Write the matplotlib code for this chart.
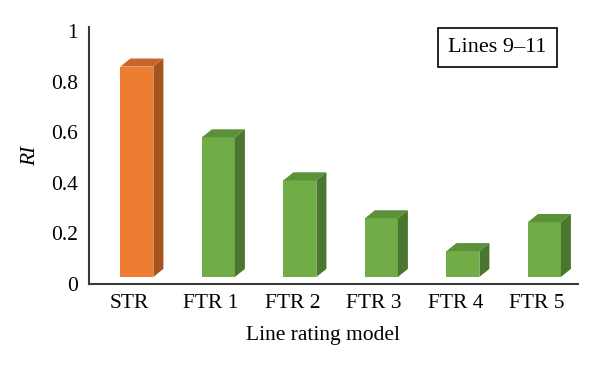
import numpy as np
import matplotlib.pyplot as plt
from matplotlib.patches import Polygon

# values
models = ["STR", "FTR 1", "FTR 2", "FTR 3", "FTR 4", "FTR 5"]
ri = [0.86, 0.58, 0.41, 0.26, 0.13, 0.245]
front_colors = ["#ED7D31", "#70AD47", "#70AD47", "#70AD47", "#70AD47", "#70AD47"]
top_colors = ["#C9652B", "#5B9139", "#5B9139", "#5B9139", "#5B9139", "#5B9139"]
side_colors = ["#A4541F", "#4A762F", "#4A762F", "#4A762F", "#4A762F", "#4A762F"]

plt.rcParams['font.family'] = ['Liberation Serif', 'DejaVu Serif']

fig = plt.figure(figsize=(6, 3.67), dpi=100)
ax = fig.add_axes([0.148, 0.226, 0.815, 0.7])

# fake 3d columns: front face + top + side
x = np.arange(len(models))
width = 0.405
shift = 0.09      # bars sit a bit right of the label
dx, dy = 0.123, 0.032
floor = 0.028
for i in range(len(models)):
    x0 = x[i] + shift - width / 2
    x1 = x0 + width
    v = ri[i]
    ax.bar(x0, v - floor, width=width, bottom=floor, align='edge',
           color=front_colors[i], edgecolor='none', zorder=2)
    top = [(x0, v), (x1, v), (x1 + dx, v + dy), (x0 + dx, v + dy)]
    side = [(x1, floor), (x1 + dx, floor + dy), (x1 + dx, v + dy), (x1, v)]
    ax.add_patch(Polygon(top, closed=True, facecolor=top_colors[i], edgecolor='none', zorder=2))
    ax.add_patch(Polygon(side, closed=True, facecolor=side_colors[i], edgecolor='none', zorder=2))

ax.set_xlim(-0.5, len(models) - 0.5)
ax.set_ylim(0, 1.016)
ax.set_yticks([0, 0.2, 0.4, 0.6, 0.8, 1])
ax.set_yticklabels(["0", "0.2", "0.4", "0.6", "0.8", "1"])
ax.set_xticks(x)
ax.set_xticklabels(models)
ax.tick_params(axis='both', length=0, labelsize=15.5)
ax.tick_params(axis='y', pad=8)
ax.tick_params(axis='x', pad=7)

for s in ['top', 'right']:
    ax.spines[s].set_visible(False)
for s in ['left', 'bottom']:
    ax.spines[s].set_color('#3a3a3a')
    ax.spines[s].set_linewidth(1.5)

ax.set_ylabel("RI", fontsize=15.5, style='italic')
ax.yaxis.set_label_coords(-0.1, 0.5)
ax.set_xlabel("Line rating model", fontsize=15.5)
ax.xaxis.set_label_coords(0.479, -0.165)

ax.text(0.836, 0.92, "Lines 9–11", transform=ax.transAxes, fontsize=16,
        ha='center', va='center',
        bbox=dict(boxstyle='square,pad=0.45', facecolor='white', edgecolor='black', linewidth=1.2))

plt.savefig('out.png', dpi=100)
